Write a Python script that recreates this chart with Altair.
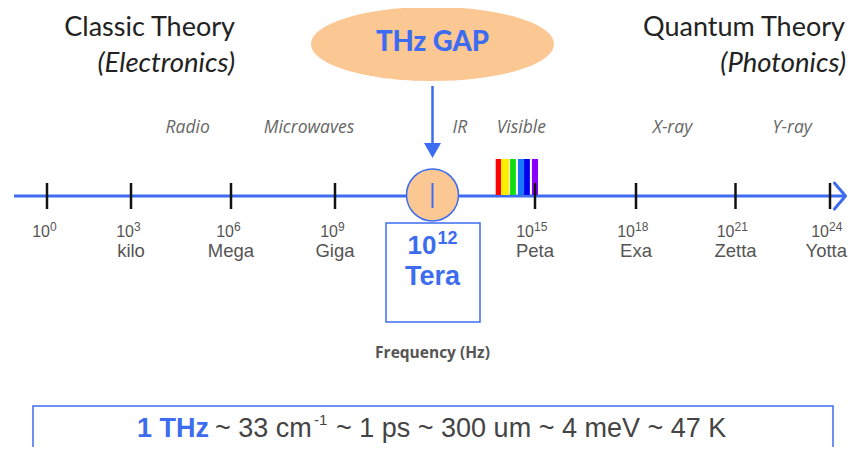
import altair as alt
import pandas as pd

# ---------------- data ----------------
exponents = [0, 3, 6, 9, 12, 15, 18, 21, 24]
prefixes = ["", "kilo", "Mega", "Giga", "Tera", "Peta", "Exa", "Zetta", "Yotta"]

bands = ["Radio", "Microwaves", "IR", "Visible", "X-ray", "ϒ-ray"]
band_exp = [4.7, 8.25, 12.8, 14.6, 19.1, 22.8]

spectrum_colors = ["#ff0000", "#ffee00", "#11dd11", "#1a75ff", "#0000ee", "#8a00ff"]
spectrum_from = [13.85, 14.005, 14.27, 14.50, 14.68, 14.91]
spectrum_to = [14.005, 14.24, 14.44, 14.68, 14.85, 15.09]

gap_exp = [12]
gap_label = ["THz GAP"]
tera_base = ["10"]
tera_sup = ["12"]
tera_name = ["Tera"]
axis_title = ["Frequency (Hz)"]

left_title = ["Classic Theory", "(Electronics)"]
right_title = ["Quantum Theory", "(Photonics)"]

equiv_head = ["1 THz"]
equiv_parts = ["~ 33 cm", "-1", "~ 1 ps ~ 300 um ~ 4 meV ~ 47 K"]

# ---------------- style ----------------
BLUE = "#3d6cf0"
PEACH = "#fbc894"
GRAY = "#555555"
W, H = 840, 439

XS = alt.Scale(domain=[0, 3, 6, 9, 12, 15, 18, 21, 24],
               range=[39, 123, 223, 327, 424.5, 527, 628, 727.5, 822])


def X(field):
    return alt.X(f"{field}:Q", scale=XS, axis=None)


one = pd.DataFrame({"k": [0]})
ticks = pd.DataFrame({"exp": exponents, "prefix": prefixes,
                      "sup": [str(e) for e in exponents]})
ticks_plain = ticks[ticks.exp != 12]
ticks_1 = ticks_plain[ticks_plain.exp < 10]
ticks_2 = ticks_plain[ticks_plain.exp >= 10]
names_mid = ticks_plain[ticks_plain.exp < 24]
names_end = ticks_plain[ticks_plain.exp == 24]
band_df = pd.DataFrame({"exp": band_exp, "band": bands})
spec_df = pd.DataFrame({"a": spectrum_from, "b": spectrum_to, "c": spectrum_colors})
gap_df = pd.DataFrame({"exp": gap_exp, "label": gap_label, "base": tera_base,
                       "sup": tera_sup, "name": tera_name, "title": axis_title})

layers = []

# axis line
layers.append(alt.Chart(one).mark_rule(color=BLUE, strokeWidth=3).encode(
    x=alt.value(6), x2=alt.value(836), y=alt.value(188)))
# arrow chevron at right end
layers.append(alt.Chart(one).mark_point(
    shape="M -0.85 -1 L 0 0 L -0.85 1", size=676, filled=False, stroke=BLUE,
    strokeWidth=3, opacity=1, strokeCap="round", strokeJoin="round").encode(
    x=alt.value(837.5), y=alt.value(188)))

# visible spectrum bars
layers.append(alt.Chart(spec_df).mark_rect().encode(
    x=X("a"), x2="b:Q", y=alt.value(151), y2=alt.value(187),
    color=alt.Color("c:N", scale=None)))

# black ticks
layers.append(alt.Chart(ticks_plain).mark_rule(color="#111111", strokeWidth=2.5).encode(
    x=X("exp"), y=alt.value(175), y2=alt.value(201)))

# THz circle + blue tick
layers.append(alt.Chart(gap_df).mark_point(
    shape="circle", size=2704, filled=True, fill=PEACH, stroke=BLUE,
    strokeWidth=1.5, opacity=1).encode(x=X("exp"), y=alt.value(187)))
layers.append(alt.Chart(gap_df).mark_rule(color=BLUE, strokeWidth=2).encode(
    x=X("exp"), y=alt.value(175), y2=alt.value(200)))

# arrow from ellipse to circle
layers.append(alt.Chart(gap_df).mark_rule(color=BLUE, strokeWidth=2.5).encode(
    x=X("exp"), y=alt.value(78), y2=alt.value(140)))
layers.append(alt.Chart(gap_df).mark_point(
    shape="M -1 -0.88 L 1 -0.88 L 0 0.88 Z", size=289, filled=True,
    fill=BLUE, opacity=1).encode(x=X("exp"), y=alt.value(142.5)))

# ellipse
ell = ("M -1 0 C -1 -0.1685 -0.5523 -0.305 0 -0.305 C 0.5523 -0.305 1 -0.1685 1 0 "
       "C 1 0.1685 0.5523 0.305 0 0.305 C -0.5523 0.305 -1 0.1685 -1 0 Z")
layers.append(alt.Chart(gap_df).mark_point(
    shape=ell, size=243 * 243, filled=True, fill=PEACH, opacity=1).encode(
    x=X("exp"), y=alt.value(36)))
layers.append(alt.Chart(gap_df).mark_text(
    font="Lato", fontWeight=900, fontSize=27.5, color=BLUE, baseline="middle").encode(
    x=X("exp"), y=alt.value(35), text="label:N"))

# titles
lt = pd.DataFrame({"t": left_title, "r": [0, 1]})
rt = pd.DataFrame({"t": right_title, "r": [0, 1]})
layers.append(alt.Chart(lt[lt.r == 0]).mark_text(
    font="Lato", fontSize=27, color="#222222", align="right", baseline="middle").encode(
    x=alt.value(227), y=alt.value(20), text="t:N"))
layers.append(alt.Chart(lt[lt.r == 1]).mark_text(
    font="Lato", fontSize=27.5, fontStyle="italic", color="#222222", align="right",
    baseline="middle").encode(x=alt.value(227), y=alt.value(56), text="t:N"))
layers.append(alt.Chart(rt[rt.r == 0]).mark_text(
    font="Lato", fontSize=27, color="#222222", align="right", baseline="middle").encode(
    x=alt.value(837), y=alt.value(20), text="t:N"))
layers.append(alt.Chart(rt[rt.r == 1]).mark_text(
    font="Lato", fontSize=27.5, fontStyle="italic", color="#222222", align="right",
    baseline="middle").encode(x=alt.value(838), y=alt.value(56), text="t:N"))

# band labels
layers.append(alt.Chart(band_df).mark_text(
    font="Open Sans", fontSize=17.5, fontStyle="italic", color="#666666",
    baseline="middle").encode(x=X("exp"), y=alt.value(120), text="band:N"))

# tick labels
layers.append(alt.Chart(ticks_1).mark_text(
    font="Liberation Sans", fontSize=16, color=GRAY, align="right", dx=3,
    baseline="middle").encode(x=X("exp"), y=alt.value(224), text=alt.value("10")))
layers.append(alt.Chart(ticks_1).mark_text(
    font="Liberation Sans", fontSize=12, color=GRAY, align="left", dx=3,
    baseline="middle").encode(x=X("exp"), y=alt.value(219), text="sup:N"))
layers.append(alt.Chart(ticks_2).mark_text(
    font="Liberation Sans", fontSize=16, color=GRAY, align="right", dx=-1,
    baseline="middle").encode(x=X("exp"), y=alt.value(224), text=alt.value("10")))
layers.append(alt.Chart(ticks_2).mark_text(
    font="Liberation Sans", fontSize=12, color=GRAY, align="left", dx=-1,
    baseline="middle").encode(x=X("exp"), y=alt.value(219), text="sup:N"))
layers.append(alt.Chart(names_mid).mark_text(
    font="Liberation Sans", fontSize=18.5, color=GRAY,
    baseline="middle").encode(x=X("exp"), y=alt.value(243), text="prefix:N"))
layers.append(alt.Chart(names_end).mark_text(
    font="Liberation Sans", fontSize=18.5, color=GRAY, align="right", dx=17,
    baseline="middle").encode(x=X("exp"), y=alt.value(243), text="prefix:N"))

# Tera box
layers.append(alt.Chart(one).mark_rect(filled=False, stroke=BLUE, strokeWidth=1.5).encode(
    x=alt.value(378), x2=alt.value(472), y=alt.value(215), y2=alt.value(314)))
layers.append(alt.Chart(gap_df).mark_text(
    font="Liberation Sans", fontWeight="bold", fontSize=26, color=BLUE, align="right",
    dx=4, baseline="middle").encode(x=X("exp"), y=alt.value(238), text="base:N"))
layers.append(alt.Chart(gap_df).mark_text(
    font="Liberation Sans", fontWeight="bold", fontSize=18, color=BLUE, align="left",
    dx=5, baseline="middle").encode(x=X("exp"), y=alt.value(231), text="sup:N"))
layers.append(alt.Chart(gap_df).mark_text(
    font="Liberation Sans", fontWeight="bold", fontSize=27, color=BLUE,
    baseline="middle").encode(x=X("exp"), y=alt.value(269), text="name:N"))
layers.append(alt.Chart(gap_df).mark_text(
    font="Open Sans", fontWeight="bold", fontSize=15.5, color=GRAY,
    baseline="middle").encode(x=X("exp"), y=alt.value(345), text="title:N"))

# bottom equivalence box
layers.append(alt.Chart(one).mark_rect(filled=False, stroke=BLUE, strokeWidth=1.5).encode(
    x=alt.value(25), x2=alt.value(825), y=alt.value(398), y2=alt.value(470)))
eq = pd.DataFrame({"t": equiv_head})
ep = pd.DataFrame({"t": equiv_parts, "i": [0, 1, 2]})
layers.append(alt.Chart(eq).mark_text(
    font="Liberation Sans", fontWeight="bold", fontSize=27, color=BLUE, align="left",
    baseline="middle").encode(x=alt.value(129), y=alt.value(421), text="t:N"))
layers.append(alt.Chart(ep[ep.i == 0]).mark_text(
    font="Liberation Sans", fontSize=27, color="#444444", align="left",
    baseline="middle").encode(x=alt.value(207), y=alt.value(421), text="t:N"))
layers.append(alt.Chart(ep[ep.i == 1]).mark_text(
    font="Liberation Sans", fontSize=15, color="#444444", align="left",
    baseline="middle").encode(x=alt.value(306), y=alt.value(412), text="t:N"))
layers.append(alt.Chart(ep[ep.i == 2]).mark_text(
    font="Liberation Sans", fontSize=27, color="#444444", align="left",
    baseline="middle").encode(x=alt.value(328), y=alt.value(421), text="t:N"))

chart = alt.layer(*layers).properties(
    width=W, height=H, padding=0,
    autosize=alt.AutoSizeParams(type="none"), background="white"
).configure_view(stroke=None)

chart.save("out.html", embed_options={"renderer": "svg", "actions": False})
